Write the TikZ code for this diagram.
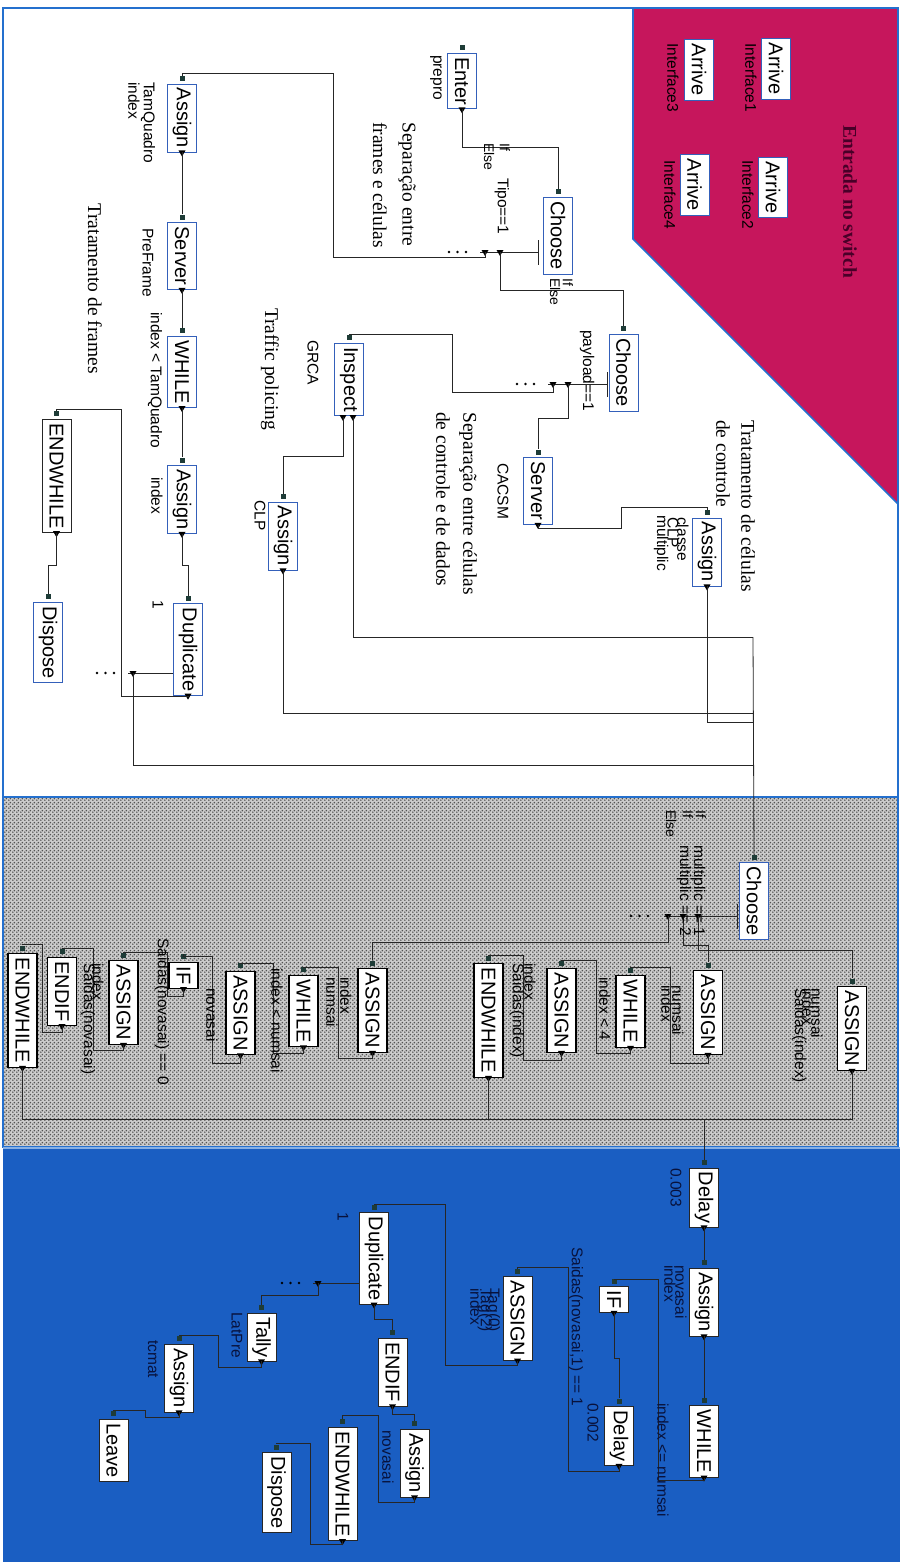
\documentclass[tikz,border=0pt]{standalone}
\usepackage{fontspec}
\setmainfont{Liberation Serif}
\newfontfamily\arialfont{Liberation Sans}
\usetikzlibrary{patterns,calc}

\definecolor{framblue}{RGB}{36,112,206}
\definecolor{boxblue}{RGB}{52,96,186}
\definecolor{switchred}{RGB}{198,22,92}
\definecolor{switchtext}{RGB}{72,0,40}
\definecolor{poolblue}{RGB}{26,94,194}
\definecolor{meshbase}{RGB}{204,204,204}
\definecolor{meshdot}{RGB}{82,82,82}
\definecolor{portgreen}{RGB}{30,60,55}
\definecolor{navy}{RGB}{8,18,60}

% checker of small dots for the processing zone
\pgfdeclarepatternformonly{meshcheck}{\pgfqpoint{0pt}{0pt}}{\pgfqpoint{4pt}{4pt}}{\pgfqpoint{4pt}{4pt}}{%
  \pgfpathcircle{\pgfqpoint{1pt}{1pt}}{1.05pt}%
  \pgfpathcircle{\pgfqpoint{3pt}{3pt}}{1.05pt}%
  \pgfusepath{fill}}

\tikzset{
  mod/.style={rectangle, rotate=-90, fill=white, inner xsep=4pt, inner ysep=0pt,
    minimum height=29pt, font=\arialfont\fontsize{20}{20}\selectfont},
  modtop/.style={mod, draw=boxblue, line width=0.9pt},
  modblack/.style={mod, draw=black!85, line width=0.9pt},
  modmesh/.style={mod, draw=black, line width=1.3pt},
  modpool/.style={mod, draw=black!85, line width=0.7pt},
  inport/.style={rectangle, fill=portgreen, minimum size=5pt, inner sep=0pt},
  wire/.style={draw=black!85, line width=0.8pt},
  lbl/.style={rotate=-90, anchor=west, inner sep=0pt,
    font=\arialfont\fontsize{15.5}{15.5}\selectfont},
  lblsmall/.style={lbl, font=\arialfont\fontsize{14}{14}\selectfont},
  lblpool/.style={lbl, text=navy},
  note/.style={rotate=-90, anchor=west, inner sep=0pt, font=\fontsize{19.5}{19.5}\selectfont},
}

% exit marker: small triangle pointing down
\newcommand\exitmark[1]{\fill[black] (#1) ++(-3.5,-2) -- ++(7,0) -- ++(-3.5,6) -- cycle;}
% module box with an entry port on top
\newcommand\entrybox[5]{%
  \node[#4] (#1) at (#2,#3) {#5};
  \node[inport] (#1-in) at ($(#1.west)+(0,-5)$) {};}
% module box with entry port and exit port
\newcommand\flowbox[5]{%
  \entrybox{#1}{#2}{#3}{#4}{#5}%
  \coordinate (#1-out) at (#1.east);
  \exitmark{#1-out}}
% branch bar of a decision module: name, x of bar, y, left end of trunk
\newcommand\branchbar[4]{%
  \coordinate (#1) at (#2,#3);
  \draw[wire] (#2,#3-12) -- (#2,#3+13);
  \draw[wire] (#1) -- (#4,#3);}
% three dots marking further exits
\newcommand\ellipsisdots[2]{\foreach \k in {0,1,2} \fill[black] (#1+8.5*\k,#2) circle (1.4);}

\begin{document}
\begin{tikzpicture}[x=1pt,y=-1pt]
\useasboundingbox (0,0) rectangle (906,1565);
\fill[white] (0,0) rectangle (906,1565);

% ---------- zones ----------
\fill[switchred] (633,8) -- (898,8) -- (898,504) -- (633,239) -- cycle;
\draw[framblue, line width=1.6pt] (3,8) rectangle (898,797);
\draw[framblue, line width=1.6pt] (633,8) -- (633,239) -- (898,504);
\fill[meshbase] (3,797) rectangle (898,1147);
\fill[pattern=meshcheck, pattern color=meshdot] (3,797) rectangle (898,1147);
\draw[framblue, line width=1.6pt] (3,797) rectangle (898,1147);
\fill[poolblue] (3,1147) rectangle (900,1562);
\draw[framblue!55!white, line width=2pt] (3,1148) -- (900,1148);

% ---------- switch entry ----------
\node[modtop] (arr1) at (776,69) {Arrive};
\node[modtop] (arr2) at (773,187.5) {Arrive};
\node[modtop] (arr3) at (699,70) {Arrive};
\node[modtop] (arr4) at (694.5,185) {Arrive};

% ---------- upper area ----------
\flowbox{enter}{462}{81}{modtop}{Enter}
\entrybox{choose1}{558}{235.5}{modtop}{Choose}
\entrybox{choose2}{623.5}{372.5}{modtop}{Choose}
\flowbox{assignF}{182}{118}{modtop}{Assign}
\flowbox{serverF}{182}{256}{modtop}{Server}
\flowbox{whileF}{182}{372}{modtop}{WHILE}
\flowbox{assignFb}{182}{499.5}{modtop}{Assign}
\flowbox{dupF}{188}{649.5}{modtop}{Duplicate}
\flowbox{endwhileF}{56.5}{476}{modblack}{ENDWHILE}
\entrybox{disposeF}{48}{642.5}{modtop}{Dispose}
\entrybox{inspect}{349}{379.5}{modtop}{Inspect}
\coordinate (inspect-a) at (343,417);
\coordinate (inspect-b) at (353,417);
\exitmark{inspect-a}
\exitmark{inspect-b}
\flowbox{assignCLP}{283}{536}{modtop}{Assign}
\flowbox{serverC}{538}{491}{modtop}{Server}
\flowbox{assignCl}{707}{552}{modtop}{Assign}

% decision trunks
\branchbar{choose1-bar}{538}{252}{480}
\coordinate (c1a) at (500,252);
\coordinate (c1b) at (485,252);
\exitmark{c1a}\exitmark{c1b}
\ellipsisdots{449}{252}
\branchbar{choose2-bar}{607}{384}{548}
\coordinate (c2a) at (568,384);
\coordinate (c2b) at (553,384);
\exitmark{c2a}\exitmark{c2b}
\ellipsisdots{517}{384}
% duplicate side exit
\draw[wire] (dupF.south |- 0,673) -- (128,673);
\coordinate (dupF-x) at (133,673);
\exitmark{dupF-x}
\ellipsisdots{97}{673}

% collector towards the cell processing
\coordinate (bus) at (753,637);
\coordinate (bus-clp) at (753,713);
\coordinate (bus-cl) at (753,722);
\coordinate (bus-dup) at (753,765);

% ---------- processing zone ----------
\entrybox{choose3}{754}{901}{modtop}{Choose}
\flowbox{assignR}{852}{1028.5}{modmesh}{ASSIGN}
\flowbox{assignM}{708}{1012.5}{modmesh}{ASSIGN}
\flowbox{whileM}{630.5}{1011.5}{modmesh}{WHILE}
\flowbox{assignMb}{561.5}{1010.5}{modmesh}{ASSIGN}
\flowbox{endwhileM}{488.5}{1020.5}{modmesh}{ENDWHILE}
\flowbox{assignL}{372.5}{1010.5}{modmesh}{ASSIGN}
\flowbox{whileL}{303.5}{1011}{modmesh}{WHILE}
\flowbox{assignLb}{240.5}{1013}{modmesh}{ASSIGN}
\flowbox{ifL}{183.5}{975.5}{modmesh}{IF}
\flowbox{assignLc}{123.5}{1002.5}{modmesh}{ASSIGN}
\flowbox{endifL}{62}{991.5}{modmesh}{ENDIF}
\flowbox{endwhileL}{22.5}{1010.5}{modmesh}{ENDWHILE}
\branchbar{choose3-bar}{737}{916}{664}
\coordinate (c3a) at (698,916);
\coordinate (c3b) at (683,916);
\coordinate (c3c) at (668,916);
\exitmark{c3a}\exitmark{c3b}\exitmark{c3c}
\ellipsisdots{631}{916}
\coordinate (merge) at (704,1119);

% ---------- output zone ----------
\flowbox{delay1}{704}{1197.5}{modpool}{Delay}
\flowbox{assignB1}{704}{1302}{modpool}{Assign}
\flowbox{whileB}{704}{1441.5}{modpool}{WHILE}
\flowbox{ifB}{614}{1299.5}{modpool}{IF}
\flowbox{delay2}{619}{1436}{modpool}{Delay}
\flowbox{assignB2}{517.5}{1318.5}{modpool}{ASSIGN}
\flowbox{dupB}{374}{1258.5}{modpool}{Duplicate}
\flowbox{endifB}{392.5}{1372}{modpool}{ENDIF}
\flowbox{assignB3}{414.5}{1463}{modpool}{Assign}
\flowbox{endwhileB}{342.5}{1484}{modpool}{ENDWHILE}
\entrybox{disposeB}{276.5}{1492.5}{modpool}{Dispose}
\flowbox{tally}{261.5}{1337}{modpool}{Tally}
\flowbox{assignB4}{179}{1378}{modpool}{Assign}
\entrybox{leave}{113.5}{1450.5}{modpool}{Leave}
\draw[wire] (dupB.south |- 0,1283) -- (313,1283);
\coordinate (dupB-x) at (318,1283);
\exitmark{dupB-x}
\ellipsisdots{282}{1283}

% ---------- connectors ----------
\draw[wire] (enter-out) -- ++(0,38) -| (choose1-in.north);
\draw[wire] (c1b) -- ++(0,5) -| (333,73) -| (assignF-in.north);
\draw[wire] (c1a) -- ++(0,38) -| (choose2-in.north);
\draw[wire] (c2b) -- ++(0,8) -| (452,334) -| (inspect-in.north);
\draw[wire] (c2a) -- ++(0,34) -| (serverC-in.north);
\draw[wire] (serverC-out) -- ++(0,3) -| (621,507) -| (assignCl-in.north);
\draw[wire] (assignF-out) -- (serverF-in.north);
\draw[wire] (serverF-out) -- (whileF-in.north);
\draw[wire] (whileF-out) -- (assignFb-in.north);
\draw[wire] (assignFb-out) -- ++(0,31) -| (dupF-in.north);
\draw[wire] (dupF-out) -- ++(0,1) -| (121,409) -| (endwhileF-in.north);
\draw[wire] (endwhileF-out) -- ++(0,32) -| (disposeF-in.north);
\draw[wire] (inspect-a) -- ++(0,39) -| (assignCLP-in.north);
\draw[wire] (inspect-b) |- (bus);
\draw[wire] (assignCLP-out) |- (bus-clp);
\draw[wire] (assignCl-out) |- (bus-cl);
\draw[wire] (dupF-x) |- (bus-dup);
\draw[wire] (bus) -- (choose3-in.north);

\draw[wire] (c3a) -- ++(0,34) -| (assignR-in.north);
\draw[wire] (c3b) -- ++(0,29) -| (assignM-in.north);
\draw[wire] (c3c) -- ++(0,26) -| (assignL-in.north);
\draw[wire] (assignM-out) -- ++(0,8) -| (670,967) -| (whileM-in.north);
\draw[wire] (whileM-out) -- ++(0,6) -| (596,960) -| (assignMb-in.north);
\draw[wire] (assignMb-out) -- ++(0,7) -| (523,955) -| (endwhileM-in.north);
\draw[wire] (assignL-out) -- ++(0,5) -| (338,967) -| (whileL-in.north);
\draw[wire] (whileL-out) -- ++(0,6) -| (273,963) -| (assignLb-in.north);
\draw[wire] (assignLb-out) -- ++(0,8) -| (212,956) -| (ifL-in.north);
\draw[wire] (ifL-out) -- ++(0,7) -| (167,952) -| (assignLc-in.north);
\draw[wire] (assignLc-out) -- ++(0,5) -| (93,948) -| (endifL-in.north);
\draw[wire] (endifL-out) -- ++(0,6) -| (42,944) -| (endwhileL-in.north);
\draw[wire] (endwhileM-out) |- (merge);
\draw[wire] (assignR-out) |- (merge);
\draw[wire] (endwhileL-out) |- (merge);
\draw[wire] (merge) -- (delay1-in.north);

\draw[wire] (delay1-out) -- (assignB1-in.north);
\draw[wire] (assignB1-out) -- (whileB-in.north);
\draw[wire] (whileB-out) -- ++(0,3) -| (658,1279) -| (ifB-in.north);
\draw[wire] (ifB-out) -- ++(0,46) -| (delay2-in.north);
\draw[wire] (delay2-out) -- ++(0,5) -| (568,1267) -| (assignB2-in.north);
\draw[wire] (assignB2-out) -- ++(0,5) -| (445,1204) -| (dupB-in.north);
\draw[wire] (dupB-out) -- ++(0,15) -| (endifB-in.north);
\draw[wire] (dupB-x) -- ++(0,12) -| (tally-in.north);
\draw[wire] (tally-out) -- ++(0,6) -| (218,1335) -| (assignB4-in.north);
\draw[wire] (assignB4-out) -- ++(0,5) -| (145,1410) -| (leave-in.north);
\draw[wire] (endifB-out) -- ++(0,8) -| (assignB3-in.north);
\draw[wire] (assignB3-out) -- ++(0,5) -| (378,1415) -| (endwhileB-in.north);
\draw[wire] (endwhileB-out) -- ++(0,3) -| (310,1443) -| (disposeB-in.north);

% ---------- texts: switch entry ----------
\node[note, font=\bfseries\fontsize{19.5}{19.5}\selectfont, text=switchtext] (n-switch) at (850,125) {Entrada no switch};
\node[lbl] (l-int1) at (751,43) {Interface1};
\node[lbl] (l-int2) at (748,160) {Interface2};
\node[lbl] (l-int3) at (673,43) {Interface3};
\node[lbl] (l-int4) at (670,160) {Interface4};

% ---------- texts: upper area ----------
\node[lbl] (l-prepro) at (436,55) {prepro};
\node[lbl] (l-tamq) at (148,82) {TamQuadro};
\node[lbl] (l-idx1) at (134,82) {index};
\node[lbl] (l-preframe) at (148,228) {PreFrame};
\node[lbl] (l-whilecond) at (155,312) {index < TamQuadro};
\node[lbl] (l-idx2) at (157,477) {index};
\node[lbl] (l-one1) at (158,600) {1};
\node[note] (n-frames) at (95,203) {Tratamento de frames};
\node[note] (n-sep1a) at (407,122) {Separação entre};
\node[note] (n-sep1b) at (380,122) {frames e células};
\node[note] (n-policing) at (270,308) {Traffic policing};
\node[lbl] (l-grca) at (313,340) {GRCA};
\node[lbl] (l-clp) at (260,500) {CLP};
\node[lblsmall] (l-if1) at (505,143) {If};
\node[lblsmall] (l-else1) at (489,143) {Else};
\node[lbl] (l-tipo) at (502,178) {Tipo==1};
\node[lblsmall] (l-if2) at (568,278) {If};
\node[lblsmall] (l-else2) at (555,278) {Else};
\node[lbl] (l-payload) at (587,330) {payload==1};
\node[lbl] (l-cacsm) at (503,463) {CACSM};
\node[note] (n-sep2a) at (468,412) {Separação entre células};
\node[note] (n-sep2b) at (443,412) {de controle e de dados};
\node[note] (n-ctrla) at (748,420) {Tratamento de células};
\node[note] (n-ctrlb) at (723,420) {de controle};
\node[lbl] (l-classe) at (683,517) {classe};
\node[lbl] (l-clp2) at (673,517) {CLP};
\node[lbl] (l-multi) at (661,515) {multiplic};

% ---------- texts: processing zone ----------
\node[lblsmall] (l-if3) at (701,810) {If};
\node[lblsmall] (l-if4) at (688,810) {If};
\node[lblsmall] (l-else3) at (671,810) {Else};
\node[lbl] (l-mult1) at (698,845) {multiplic == 1};
\node[lbl] (l-mult2) at (684,845) {multiplic == 2};
\node[lbl] (l-r1) at (817,988) {numsai};
\node[lbl] (l-r2) at (808,988) {index};
\node[lbl] (l-r3) at (799,988) {Saidas(index)};
\node[lbl] (l-m1) at (678,985) {numsai};
\node[lbl] (l-m2) at (667,985) {index};
\node[lbl] (l-m3) at (605,977) {index < 4};
\node[lbl] (l-m4) at (530,963) {index};
\node[lbl] (l-m5) at (517,963) {Saidas(index)};
\node[lbl] (l-l1) at (346,977) {index};
\node[lbl] (l-l2) at (332,977) {numsai};
\node[lbl] (l-l3) at (277,968) {index < numsai};
\node[lbl] (l-l4) at (212,988) {novasai};
\node[lbl] (l-l5) at (162,938) {Saidas(novasai) == 0};
\node[lbl] (l-l6) at (98,963) {index};
\node[lbl] (l-l7) at (88,963) {Saidas(novasai)};

% ---------- texts: output zone ----------
\node[lblpool] (l-b1) at (676,1168) {0.003};
\node[lblpool] (l-b2) at (681,1265) {novasai};
\node[lblpool] (l-b3) at (670,1265) {index};
\node[lblpool] (l-b4) at (663,1403) {index <= numsai};
\node[lblpool] (l-b5) at (576,1247) {Saidas(novasai,1) == 1};
\node[lblpool] (l-b6) at (593,1403) {0.002};
\node[lblpool] (l-b7) at (493,1288) {Tag(0)};
\node[lblpool] (l-b8) at (485,1288) {Tag(2)};
\node[lblpool] (l-b9) at (476,1288) {index};
\node[lblpool] (l-b10) at (343,1212) {1};
\node[lblpool] (l-b11) at (237,1312) {LatPre};
\node[lblpool] (l-b12) at (153,1340) {tcmat};
\node[lblpool] (l-b13) at (388,1430) {novasai};
\end{tikzpicture}
\end{document}
